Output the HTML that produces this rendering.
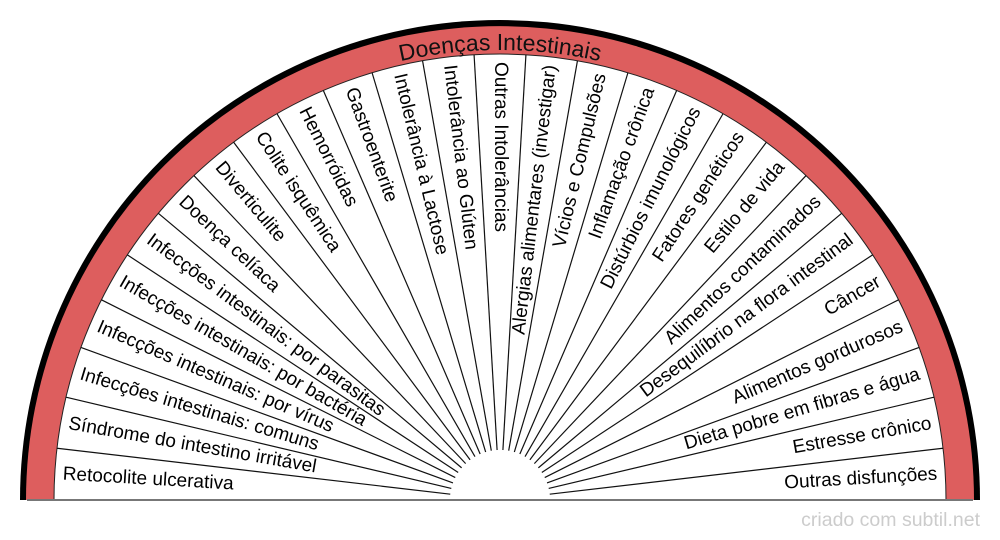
<!DOCTYPE html>
<html><head><meta charset="utf-8"><style>
html,body{margin:0;padding:0;background:#fff}
svg{display:block}
text{font-family:"Liberation Sans",sans-serif}
</style></head><body>
<svg width="1000" height="540" viewBox="0 0 1000 540">
<g transform="translate(500,500)">
<path d="M-480,0 A480,480 0 0 1 480,0 Z" fill="#000"/>
<path d="M-474,0 A474,474 0 0 1 474,0 Z" fill="#dd5e5e"/>
<path d="M-446,0 A446,446 0 0 1 446,0 Z" fill="#fff" stroke="#222" stroke-width="1"/>
<g stroke="#111" stroke-width="1.2">
<line x1="50" x2="446" transform="rotate(-6.667)"/>
<line x1="50" x2="446" transform="rotate(-13.333)"/>
<line x1="50" x2="446" transform="rotate(-20)"/>
<line x1="50" x2="446" transform="rotate(-26.667)"/>
<line x1="50" x2="446" transform="rotate(-33.333)"/>
<line x1="50" x2="446" transform="rotate(-40)"/>
<line x1="50" x2="446" transform="rotate(-46.667)"/>
<line x1="50" x2="446" transform="rotate(-53.333)"/>
<line x1="50" x2="446" transform="rotate(-60)"/>
<line x1="50" x2="446" transform="rotate(-66.667)"/>
<line x1="50" x2="446" transform="rotate(-73.333)"/>
<line x1="50" x2="446" transform="rotate(-80)"/>
<line x1="50" x2="446" transform="rotate(-86.667)"/>
<line x1="50" x2="446" transform="rotate(-93.333)"/>
<line x1="50" x2="446" transform="rotate(-100)"/>
<line x1="50" x2="446" transform="rotate(-106.667)"/>
<line x1="50" x2="446" transform="rotate(-113.333)"/>
<line x1="50" x2="446" transform="rotate(-120)"/>
<line x1="50" x2="446" transform="rotate(-126.667)"/>
<line x1="50" x2="446" transform="rotate(-133.333)"/>
<line x1="50" x2="446" transform="rotate(-140)"/>
<line x1="50" x2="446" transform="rotate(-146.667)"/>
<line x1="50" x2="446" transform="rotate(-153.333)"/>
<line x1="50" x2="446" transform="rotate(-160)"/>
<line x1="50" x2="446" transform="rotate(-166.667)"/>
<line x1="50" x2="446" transform="rotate(-173.333)"/>
</g>
<path d="M-50,0 A50,50 0 0 1 50,0 Z" fill="#fff"/>
<line x1="-473" x2="473" y1="0" y2="0" stroke="#777" stroke-width="2"/>
<path id="arc" d="M-450,0 A450,450 0 0 1 450,0" fill="none"/>
<text font-size="23" fill="#111"><textPath href="#arc" startOffset="50%" text-anchor="middle">Doenças Intestinais</textPath></text>
<g font-size="19" fill="#000" dominant-baseline="middle">
<text x="-438" transform="rotate(3.333)">Retocolite ulcerativa</text>
<text x="-438" transform="rotate(10)">Síndrome do intestino irritável</text>
<text x="-438" transform="rotate(16.667)">Infecções intestinais: comuns</text>
<text x="-438" transform="rotate(23.333)">Infecções intestinais: por vírus</text>
<text x="-438" transform="rotate(30)">Infecções intestinais: por bactéria</text>
<text x="-438" transform="rotate(36.667)">Infecções intestinais: por parasitas</text>
<text x="-438" transform="rotate(43.333)">Doença celíaca</text>
<text x="-438" transform="rotate(50)">Diverticulite</text>
<text x="-438" transform="rotate(56.667)">Colite isquêmica</text>
<text x="-438" transform="rotate(63.333)">Hemorróidas</text>
<text x="-438" transform="rotate(70)">Gastroenterite</text>
<text x="-438" transform="rotate(76.667)">Intolerância à Lactose</text>
<text x="-438" transform="rotate(83.333)">Intolerância ao Glúten</text>
<text x="-438" transform="rotate(90)">Outras Intolerâncias</text>
<text x="438" text-anchor="end" transform="rotate(-83.333)">Alergias alimentares (investigar)</text>
<text x="438" text-anchor="end" transform="rotate(-76.667)">Vícios e Compulsões</text>
<text x="438" text-anchor="end" transform="rotate(-70)">Inflamação crônica</text>
<text x="438" text-anchor="end" transform="rotate(-63.333)">Distúrbios imunológicos</text>
<text x="438" text-anchor="end" transform="rotate(-56.667)">Fatores genéticos</text>
<text x="438" text-anchor="end" transform="rotate(-50)">Estilo de vida</text>
<text x="438" text-anchor="end" transform="rotate(-43.333)">Alimentos contaminados</text>
<text x="438" text-anchor="end" transform="rotate(-36.667)">Desequilíbrio na flora intestinal</text>
<text x="438" text-anchor="end" transform="rotate(-30)">Câncer</text>
<text x="438" text-anchor="end" transform="rotate(-23.333)">Alimentos gordurosos</text>
<text x="438" text-anchor="end" transform="rotate(-16.667)">Dieta pobre em fibras e água</text>
<text x="438" text-anchor="end" transform="rotate(-10)">Estresse crônico</text>
<text x="438" text-anchor="end" transform="rotate(-3.333)">Outras disfunções</text>
</g>
</g>
<text x="980" y="526" text-anchor="end" font-size="19.5" fill="#ccc">criado com subtil.net</text>
</svg>
</body></html>
